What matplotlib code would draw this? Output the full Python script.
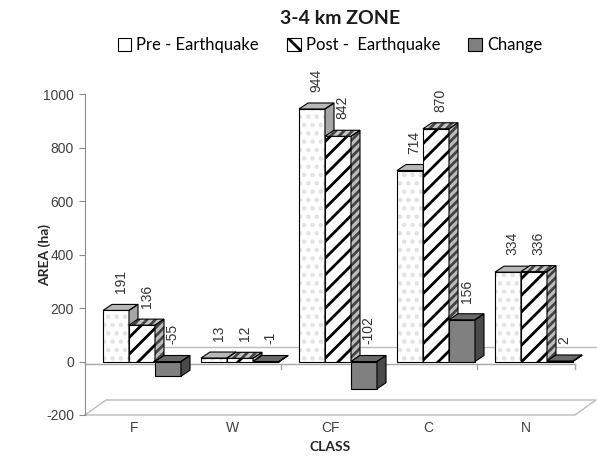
import matplotlib
matplotlib.use('Agg')
import matplotlib.pyplot as plt
from matplotlib.patches import Polygon, Patch

categories = ['F', 'W', 'CF', 'C', 'N']
pre = [191, 13, 944, 714, 334]
post = [136, 12, 842, 870, 336]
change = [-55, -1, -102, 156, 2]
series_names = ['Pre - Earthquake', 'Post -  Earthquake', 'Change']
yticks = [-200, 0, 200, 400, 600, 800, 1000]
title = '3-4 km ZONE'
xlabel = 'CLASS'
ylabel = 'AREA (ha)'

plt.rcParams['hatch.linewidth'] = 2.0
FONT = ['Lato', 'DejaVu Sans']
TICKFONT = ['Liberation Sans', 'DejaVu Sans']

W, H = 597, 459
fig = plt.figure(figsize=(W / 100, H / 100), dpi=100)
ax = fig.add_axes([85 / W, 1 - 415 / H, 490 / W, 321 / H])
ax.set_xlim(-0.5, 4.5)
ax.set_ylim(-200, 1000)

px_x = 5.0 / 490
px_y = 1200.0 / 321

bar_w = 26 * px_x
group_shift = 8 * px_x
bdx, bdy = 9 * px_x, 6 * px_y
wdx, wdy = 21 * px_x, 15 * px_y

styles = [
    dict(front=('white', '..', '#e2e2e2'), top=('#b8b8b8', None, '#b8b8b8'), side=('#a6a6a6', None, '#a6a6a6')),
    dict(front=('white', '//', 'black'), top=('#c8c8c8', '////', '#444444'), side=('#bdbdbd', '////', '#444444')),
    dict(front=('#808080', None, '#808080'), top=('#6a6a6a', None, '#6a6a6a'), side=('#4a4a4a', None, '#4a4a4a')),
]


def face(verts, spec, z):
    fc, hatch, hc = spec
    ax.add_patch(Polygon(verts, closed=True, facecolor=fc, edgecolor=hc, hatch=hatch,
                         linewidth=0, zorder=z, clip_on=False))
    ax.add_patch(Polygon(verts, closed=True, fill=False, edgecolor='black',
                         linewidth=0.8, zorder=z + 0.01, clip_on=False))


# floor and back wall lines
gc = '#bcbcbc'
x0f, x1f = -0.5, 4.5
ax.plot([x0f, x1f, x1f + wdx, x0f + wdx, x0f], [-200, -200, -200 + wdy, -200 + wdy, -200],
        color=gc, lw=1.0, zorder=1, clip_on=False)
ax.plot([x0f + wdx, x1f + wdx], [wdy, wdy], color=gc, lw=1.0, zorder=1, clip_on=False)
# front zero line with category ticks
ax.plot([x0f, x1f], [-10, -10], color='#a8a8a8', lw=1.0, zorder=2, clip_on=False)
for b in range(1, len(categories) + 1):
    ax.plot([b - 0.5, b - 0.5], [-10, -10 - 5 * px_y], color='#a8a8a8', lw=1.0, zorder=2, clip_on=False)

series = [pre, post, change]
for i in range(len(categories)):
    for s, vals in enumerate(series):
        v = vals[i]
        x0 = i + group_shift + (s - 1.5) * bar_w
        x1 = x0 + bar_w
        lo, hi = min(0, v), max(0, v)
        z = 10 + i * 10 + s * 3
        st = styles[s]
        face([(x0, lo), (x1, lo), (x1, hi), (x0, hi)], st['front'], z)
        face([(x0, hi), (x1, hi), (x1 + bdx, hi + bdy), (x0 + bdx, hi + bdy)], st['top'], z + 1)
        face([(x1, lo), (x1 + bdx, lo + bdy), (x1 + bdx, hi + bdy), (x1, hi)], st['side'], z + 1)
        ax.text(x0 + bar_w / 2 + bdx / 2, hi + bdy + 11 * px_y, str(v), rotation=90,
                ha='center', va='bottom', fontsize=10, family=TICKFONT,
                color='#333333', zorder=200, clip_on=False)

ax.set_yticks(yticks)
ax.set_yticklabels([str(t) for t in yticks], fontsize=10, family=TICKFONT, color='#404040')
ax.set_xticks(range(len(categories)))
ax.set_xticklabels(categories, fontsize=10, family=TICKFONT, color='#404040')
ax.tick_params(axis='x', length=0, pad=4)
ax.tick_params(axis='y', direction='out', length=4, color='#8c8c8c', pad=4)
for sp in ['top', 'right', 'bottom']:
    ax.spines[sp].set_visible(False)
ax.spines['left'].set_color('#8c8c8c')
ax.patch.set_alpha(0)

fig.text(45 / W, 1 - 255 / H, ylabel, rotation=90, ha='center', va='center',
         fontsize=10, fontweight='bold', family=FONT, color='#262626')
fig.text(330 / W, 1 - 447 / H, xlabel, ha='center', va='center',
         fontsize=10, fontweight='bold', family=FONT, color='#262626')
fig.text(340 / W, 1 - 18 / H, title, ha='center', va='center',
         fontsize=14, fontweight='bold', family=FONT, color='#1a1a1a')

handles = [
    Patch(facecolor='white', edgecolor='black', linewidth=0.8),
    Patch(facecolor='white', edgecolor='black', hatch='\\\\', linewidth=0.8),
    Patch(facecolor='#808080', edgecolor='black', linewidth=0.8),
]
fig.legend(handles, series_names, loc='center', bbox_to_anchor=(330 / W, 1 - 45 / H), ncol=3,
           frameon=False, prop={'family': FONT, 'size': 12}, handlelength=0.8, handleheight=0.8,
           handletextpad=0.3, columnspacing=1.7)

fig.savefig('out.png', dpi=100)
